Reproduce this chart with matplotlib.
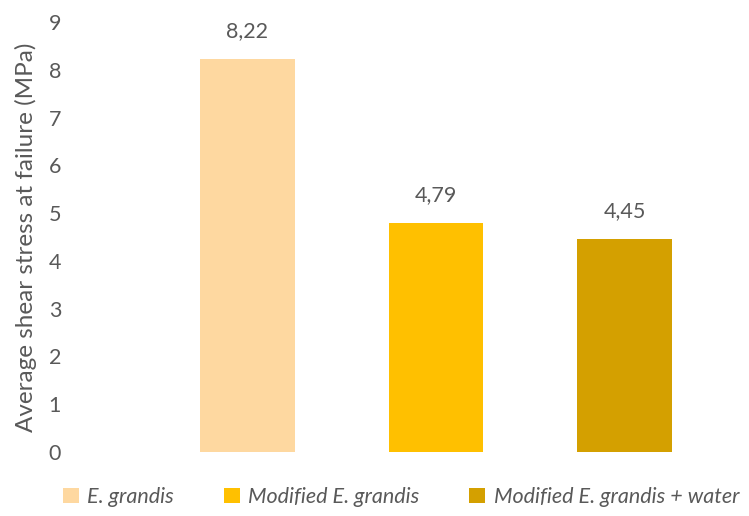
import matplotlib
matplotlib.use("Agg")
import matplotlib.pyplot as plt
from matplotlib.patches import Patch

categories = ["E. grandis", "Modified E. grandis", "Modified E. grandis + water"]
values = [8.22, 4.79, 4.45]
value_labels = ["8,22", "4,79", "4,45"]
colors = ["#FED8A0", "#FFC000", "#D4A000"]
yticks = [0, 1, 2, 3, 4, 5, 6, 7, 8, 9]

W, H = 749, 516
fig = plt.figure(figsize=(W / 100, H / 100), dpi=100)
txt = "#595959"
plt.rcParams["font.family"] = ["Lato", "DejaVu Sans"]

# plot area in pixel coordinates
left, right, top, bottom = 75, 740, 22, 452
ax = fig.add_axes([left / W, 1 - bottom / H, (right - left) / W, (bottom - top) / H])

x = list(range(len(values)))
ax.bar(x, values, width=0.5, color=colors, zorder=2)
for xi, v, lab in zip(x, values, value_labels):
    ax.annotate(lab, (xi, v), xytext=(0, 13), textcoords="offset points",
                ha="center", va="bottom", fontsize=15.5, color=txt)

ax.set_xlim(-0.915, 2.613)
ax.set_ylim(0, 9)
ax.set_yticks(yticks)
ax.set_yticklabels([str(t) for t in yticks], fontsize=15.5, color=txt)
ax.set_xticks([])
ax.tick_params(axis="y", length=0, pad=10)
for s in ax.spines.values():
    s.set_visible(False)
ax.set_ylabel("Average shear stress at failure (MPa)", fontsize=17.5, color=txt)
ax.yaxis.set_label_coords(-(left - 26) / (right - left), 0.5)
ax.yaxis.label.set_verticalalignment("center")

handles = [Patch(facecolor=c, edgecolor="none") for c in colors]
leg = fig.legend(handles, categories, loc="center", bbox_to_anchor=(401 / W, 1 - 497 / H),
                 ncol=3, frameon=False, handlelength=0.75, handleheight=0.75,
                 handletextpad=0.4, columnspacing=2.3,
                 prop={"size": 15.5, "style": "italic"})
for t in leg.get_texts():
    t.set_color(txt)

fig.savefig("out.png", dpi=100, facecolor="white")
